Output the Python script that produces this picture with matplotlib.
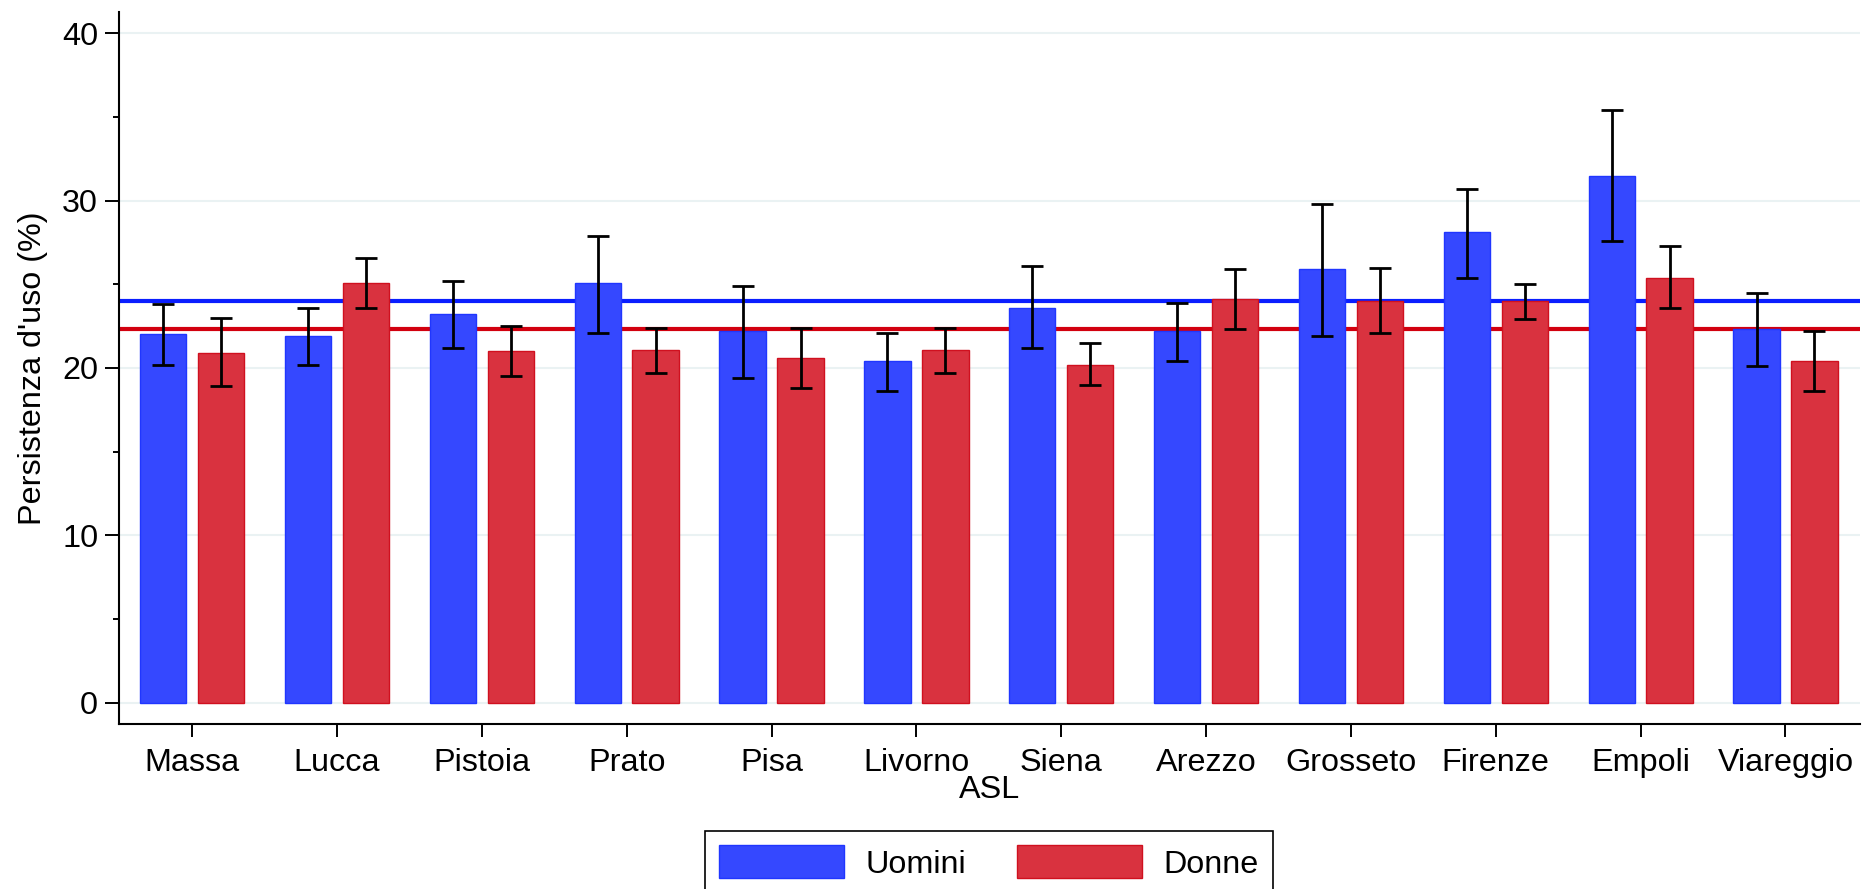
import matplotlib
matplotlib.use("Agg")
import matplotlib.pyplot as plt
import numpy as np

plt.rcParams['font.family'] = ['Liberation Sans', 'DejaVu Sans']

# persistenza d'uso per ASL, con intervalli di confidenza
asl = ['Massa', 'Lucca', 'Pistoia', 'Prato', 'Pisa', 'Livorno', 'Siena',
       'Arezzo', 'Grosseto', 'Firenze', 'Empoli', 'Viareggio']
uomini = [22.0, 21.9, 23.2, 25.1, 22.2, 20.4, 23.6, 22.2, 25.9, 28.1, 31.5, 22.3]
uomini_lo = [20.2, 20.2, 21.2, 22.1, 19.4, 18.6, 21.2, 20.4, 21.9, 25.4, 27.6, 20.1]
uomini_hi = [23.8, 23.6, 25.2, 27.9, 24.9, 22.1, 26.1, 23.9, 29.8, 30.7, 35.4, 24.5]
donne = [20.9, 25.1, 21.0, 21.1, 20.6, 21.1, 20.2, 24.1, 24.0, 24.0, 25.4, 20.4]
donne_lo = [18.9, 23.6, 19.5, 19.7, 18.8, 19.7, 19.0, 22.3, 22.1, 22.9, 23.6, 18.6]
donne_hi = [23.0, 26.6, 22.5, 22.4, 22.4, 22.4, 21.5, 25.9, 26.0, 25.0, 27.3, 22.2]
media_uomini = 24.0
media_donne = 22.3

BLUE = '#3548ff'
RED = '#d9323f'
FS = 23.3

fig = plt.figure(figsize=(18.62, 8.89), dpi=100)
ax = fig.add_axes([0.0639, 0.1859, 0.9350, 0.8003])

x = np.arange(len(asl))
w = 0.32
off = 0.2

def err(m, lo, hi):
    m, lo, hi = np.array(m), np.array(lo), np.array(hi)
    return np.vstack([m - lo, hi - m])

ax.axhline(media_uomini, color='#0a1eff', lw=3, zorder=1)
ax.axhline(media_donne, color='#d2000f', lw=3, zorder=1)

ax.bar(x - off, uomini, w, color=BLUE, edgecolor='#2036ff', lw=1, zorder=2, label='Uomini')
ax.bar(x + off, donne, w, color=RED, edgecolor='#d0101f', lw=1, zorder=2, label='Donne')
ax.errorbar(x - off, uomini, yerr=err(uomini, uomini_lo, uomini_hi), fmt='none',
            ecolor='black', elinewidth=2, capsize=8, capthick=2, zorder=3)
ax.errorbar(x + off, donne, yerr=err(donne, donne_lo, donne_hi), fmt='none',
            ecolor='black', elinewidth=2, capsize=8, capthick=2, zorder=3)

ax.set_xlim(-0.505, 11.514)
ax.set_ylim(-1.267, 41.26)
ax.set_yticks([0, 10, 20, 30, 40])
ax.set_yticks([5, 15, 25, 35], minor=True)
ax.yaxis.grid(True, which='major', color='#eaf2f3', lw=1.5, zorder=0)
ax.set_axisbelow(True)
ax.set_xticks(x)
ax.set_xticklabels(asl)

for s in ['top', 'right']:
    ax.spines[s].set_visible(False)
for s in ['left', 'bottom']:
    ax.spines[s].set_linewidth(1.5)

ax.tick_params(axis='y', which='major', length=10, width=1.4, labelsize=FS, pad=5)
ax.tick_params(axis='y', which='minor', length=4.5, width=1.4)
ax.tick_params(axis='x', length=9.5, width=1.4, labelsize=FS, pad=8)

ax.set_ylabel("Persistenza d'uso (%)", fontsize=FS, labelpad=10)
ax.set_xlabel('ASL', fontsize=FS, labelpad=-2)

leg = fig.legend(loc='upper center', bbox_to_anchor=(988.8 / 1862, 1 - 830.7 / 889),
                 ncol=2, fontsize=FS, frameon=True, fancybox=False, framealpha=1,
                 edgecolor='black', handlelength=3.86, handleheight=1.2,
                 handletextpad=0.65, columnspacing=1.58, borderpad=0.45,
                 borderaxespad=0)
leg.get_frame().set_linewidth(1.2)

fig.savefig('out.png', dpi=100)
